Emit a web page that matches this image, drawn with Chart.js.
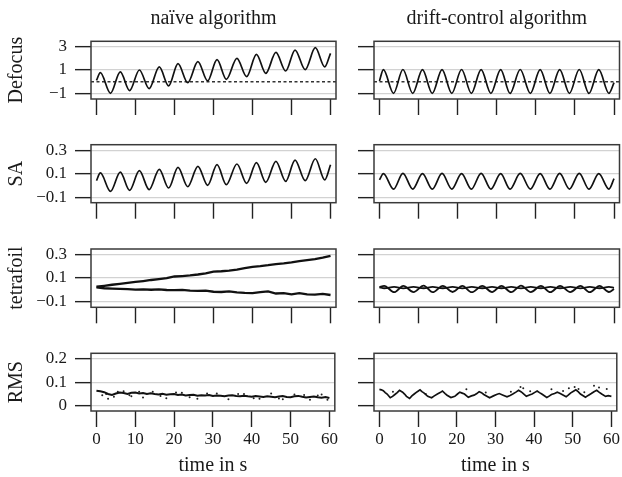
<!DOCTYPE html>
<html>
<head>
<meta charset="utf-8">
<title>naïve vs drift-control algorithm</title>
<script src="https://cdn.jsdelivr.net/npm/chart.js@4.4.1/dist/chart.umd.min.js"></script>
<style>
  html, body { margin: 0; padding: 0; background: #fff; overflow: hidden; }
  #wrap { position: relative; width: 622px; height: 477px; }
  #wrap canvas { position: absolute; }
</style>
</head>
<body>
<div id="wrap"></div>
<script>
// --- data (time in s) ---
const timeTicks = [0, 10, 20, 30, 40, 50, 60];
const columnTitles = ['naïve algorithm', 'drift-control algorithm'];
const rowNames = ['Defocus', 'SA', 'tetrafoil', 'RMS'];
const rowTicks = [[-1, 1, 3], [-0.1, 0.1, 0.3], [-0.1, 0.1, 0.3], [0, 0.1, 0.2]];

// turning points of the oscillating traces
const naiveTimes = [0, 1.0, 3.6, 6.1, 8.5, 11.0, 13.5, 16.1, 18.5, 20.9, 23.4, 26.0, 28.5, 30.9, 33.3, 36.0, 38.5, 41.0, 43.4, 46.0, 48.5, 50.9, 53.5, 56.1, 58.5, 60];
const driftTimes = [0, 1.0, 3.6, 6.0, 8.5, 11.0, 13.5, 16.0, 18.5, 21.0, 23.5, 26.0, 28.5, 31.0, 33.4, 36.0, 38.6, 41.1, 43.6, 46.1, 48.6, 51.1, 53.6, 56.1, 58.7, 60];

const defocusNaive = [0.1, 0.77, -1.0, 0.83, -0.77, 1.0, -0.6, 1.26, -0.37, 1.54, -0.09, 1.71, 0.06, 1.89, 0.2, 2.0, 0.43, 2.34, 0.71, 2.51, 0.91, 2.71, 1.03, 2.91, 1.26, 2.43];
const defocusDrift = [0.06, 1.03, -1.0, 1.04, -1.0, 1.03, -1.01, 1.03, -1.0, 1.04, -1.0, 1.03, -1.0, 1.03, -1.01, 1.04, -1.0, 1.03, -1.0, 1.03, -1.0, 1.04, -1.01, 1.03, -1.0, -0.09];

const saNaive = [0.043, 0.109, -0.049, 0.117, -0.04, 0.129, -0.034, 0.14, -0.02, 0.157, -0.009, 0.166, 0.003, 0.18, 0.009, 0.186, 0.02, 0.197, 0.029, 0.209, 0.037, 0.22, 0.043, 0.231, 0.049, 0.18];
const saDrift = [0.05, 0.104, -0.03, 0.106, -0.029, 0.104, -0.03, 0.105, -0.029, 0.104, -0.03, 0.106, -0.029, 0.104, -0.03, 0.105, -0.029, 0.104, -0.03, 0.105, -0.029, 0.106, -0.03, 0.104, -0.029, 0.06];

// tetrafoil, naive: two drifting traces sampled every 2 s
const tetraNaiveTimes = [0, 2, 4, 6, 8, 10, 12, 14, 16, 18, 20, 22, 24, 26, 28, 30, 32, 34, 36, 38, 40, 42, 44, 46, 48, 50, 52, 54, 56, 58, 60];
const tetraNaiveUpper = [0.025, 0.033, 0.042, 0.05, 0.058, 0.066, 0.074, 0.083, 0.09, 0.098, 0.113, 0.117, 0.122, 0.13, 0.14, 0.155, 0.158, 0.163, 0.172, 0.184, 0.196, 0.202, 0.21, 0.22, 0.226, 0.234, 0.245, 0.254, 0.262, 0.274, 0.29];
const tetraNaiveLower = [0.02, 0.012, 0.009, 0.007, 0.004, 0.001, 0.003, -0.001, 0.002, -0.003, -0.004, -0.002, -0.008, -0.011, -0.009, -0.018, -0.02, -0.015, -0.023, -0.028, -0.03, -0.022, -0.015, -0.033, -0.03, -0.04, -0.03, -0.04, -0.043, -0.036, -0.046];

// tetrafoil, drift-control: two small interleaved oscillations
const tetraDriftTimes = [0, 1.2, 3.75, 6.1, 8.7, 11.3, 13.6, 16.2, 18.7, 21.2, 23.6, 26.3, 28.8, 31.2, 33.7, 36.2, 38.7, 41.3, 43.7, 46.2, 48.8, 51.4, 53.8, 56.3, 58.7, 60];
const tetraDriftA = [0.02, 0.012, 0.024, 0.011, 0.023, 0.012, 0.024, 0.012, 0.023, 0.011, 0.024, 0.012, 0.023, 0.012, 0.024, 0.011, 0.023, 0.012, 0.024, 0.012, 0.023, 0.011, 0.024, 0.012, 0.023, 0.016];
const tetraDriftB = [0.022, 0.033, -0.022, 0.032, -0.021, 0.034, -0.022, 0.032, -0.02, 0.033, -0.022, 0.032, -0.021, 0.033, -0.022, 0.034, -0.021, 0.032, -0.022, 0.033, -0.021, 0.032, -0.022, 0.033, -0.02, 0.005];

// RMS, naive: sampled every second plus stray points
const rmsNaiveTimes = [0, 1, 2, 3, 4, 5, 6, 7, 8, 9, 10, 11, 12, 13, 14, 15, 16, 17, 18, 19, 20, 21, 22, 23, 24, 25, 26, 27, 28, 29, 30, 31, 32, 33, 34, 35, 36, 37, 38, 39, 40, 41, 42, 43, 44, 45, 46, 47, 48, 49, 50, 51, 52, 53, 54, 55, 56, 57, 58, 59, 60];
const rmsNaive = [0.064, 0.062, 0.058, 0.05, 0.046, 0.052, 0.056, 0.054, 0.05, 0.055, 0.056, 0.052, 0.054, 0.05, 0.053, 0.05, 0.048, 0.051, 0.047, 0.049, 0.05, 0.046, 0.048, 0.044, 0.046, 0.047, 0.043, 0.045, 0.044, 0.046, 0.042, 0.044, 0.043, 0.041, 0.044, 0.045, 0.042, 0.04, 0.043, 0.04, 0.038, 0.041, 0.039, 0.037, 0.04, 0.038, 0.036, 0.039, 0.041, 0.037, 0.036, 0.04, 0.042, 0.038, 0.035, 0.037, 0.039, 0.036, 0.034, 0.037, 0.033];
const rmsNaiveStrayT = [1.5, 2.5, 3, 4.5, 5.5, 7, 8.5, 9, 11, 12, 14.5, 16.5, 18, 20.5, 22, 24, 26, 28.5, 31, 34, 36.5, 38, 40.5, 42, 45, 47, 48, 51, 53.5, 55, 57, 58, 59.5];
const rmsNaiveStrayV = [0.045, 0.05, 0.03, 0.038, 0.06, 0.062, 0.045, 0.04, 0.06, 0.035, 0.06, 0.042, 0.032, 0.056, 0.055, 0.036, 0.03, 0.052, 0.052, 0.028, 0.05, 0.05, 0.032, 0.03, 0.052, 0.031, 0.028, 0.048, 0.046, 0.026, 0.044, 0.048, 0.025];

// RMS, drift-control
const rmsDriftTimes = [0, 0.5, 1, 1.5, 2, 2.8, 3.4, 4, 4.6, 5.2, 6, 6.5, 7, 7.8, 8.4, 9, 9.8, 10.5, 11, 11.5, 12.5, 13.5, 14.2, 15, 15.7, 16.3, 17, 17.5, 18.5, 19.5, 20.2, 20.8, 21.4, 22, 23, 23.8, 24.5, 25.2, 25.8, 26.4, 27, 28.5, 29.5, 30.3, 31, 32, 33, 33.8, 34.5, 35.3, 36, 36.6, 37, 38, 38.8, 39.5, 40.2, 40.8, 41.4, 42, 43.3, 44, 44.5, 45.3, 46, 46.5, 47, 48.3, 48.9, 49.5, 50.2, 50.8, 51.4, 52, 53.3, 54, 54.8, 55.5, 56.2, 56.8, 57.5, 58.5, 59.2, 60];
const rmsDrift = [0.07, 0.068, 0.064, 0.056, 0.05, 0.034, 0.04, 0.048, 0.056, 0.066, 0.058, 0.05, 0.04, 0.031, 0.042, 0.05, 0.06, 0.068, 0.06, 0.055, 0.04, 0.034, 0.042, 0.05, 0.056, 0.063, 0.052, 0.045, 0.035, 0.04, 0.05, 0.058, 0.054, 0.05, 0.036, 0.042, 0.045, 0.052, 0.06, 0.056, 0.048, 0.034, 0.042, 0.048, 0.052, 0.045, 0.038, 0.044, 0.05, 0.058, 0.066, 0.06, 0.055, 0.04, 0.046, 0.05, 0.057, 0.063, 0.056, 0.05, 0.035, 0.042, 0.048, 0.052, 0.058, 0.054, 0.05, 0.038, 0.046, 0.055, 0.062, 0.068, 0.06, 0.05, 0.036, 0.044, 0.052, 0.06, 0.066, 0.058, 0.05, 0.04, 0.043, 0.04];
const rmsDriftStrayT = [3.5, 12, 22.5, 27.5, 34, 36.5, 37.2, 39, 44.5, 47.5, 49, 50.5, 51.5, 53, 55.5, 56.8, 58.8];
const rmsDriftStrayV = [0.06, 0.05, 0.07, 0.056, 0.06, 0.08, 0.075, 0.062, 0.07, 0.063, 0.075, 0.08, 0.072, 0.058, 0.085, 0.078, 0.072];

// --- drawing ---
const serif = '"Liberation Serif", "DejaVu Serif", serif';
const ink = '#1a1a1a';
const wrap = document.getElementById('wrap');

const pts = (ts, vs) => ts.map((t, i) => ({ x: t, y: vs[i] }));
const minus = v => (v < 0 ? '\u2212' : '') + Math.abs(v);

// frame round the plot region
const boxPlugin = {
    id: 'box',
    afterDraw(chart) {
        const { ctx, chartArea: a } = chart;
        ctx.save();
        ctx.strokeStyle = '#3a3a3a';
        ctx.lineWidth = 1.5;
        ctx.strokeRect(a.left, a.top, a.right - a.left, a.bottom - a.top);
        ctx.restore();
    }
};

// dotted reference line at y = 0
const zeroLine = {
    id: 'zeroLine',
    beforeDatasetsDraw(chart, args, opts) {
        if (!opts || !opts.show) return;
        const { ctx, chartArea: a, scales } = chart;
        const py = scales.y.getPixelForValue(0);
        ctx.save();
        ctx.setLineDash([3, 2.5]);
        ctx.lineWidth = 1.5;
        ctx.strokeStyle = '#333';
        ctx.beginPath();
        ctx.moveTo(a.left, py);
        ctx.lineTo(a.right, py);
        ctx.stroke();
        ctx.restore();
    }
};

const rows = [
    { top: 0, h: 120, padTop: 0, xh: 21, min: -1.49, max: 3.46 },
    { top: 120, h: 105, padTop: 24.7, xh: 22.3, min: -0.146, max: 0.3515 },
    { top: 225, h: 105, padTop: 24, xh: 22.7, min: -0.1515, max: 0.349 },
    { top: 330, h: 148, padTop: 23.3, xh: 67, min: -0.0227, max: 0.2244 }
];
const cols = [
    { left: 0, w: 340, yw: 91, padRight: 4 },
    { left: 340, w: 282, yw: 34, padRight: 2.5 }
];

const smooth = (ts, vs, width) => ({
    data: pts(ts, vs), borderColor: '#111', borderWidth: width || 1.7,
    pointRadius: 0, cubicInterpolationMode: 'monotone'
});
const rough = (ts, vs, width) => ({
    data: pts(ts, vs), borderColor: '#111', borderWidth: width || 2,
    pointRadius: 0, tension: 0
});
const dots = (ts, vs) => ({
    data: pts(ts, vs), showLine: false, pointRadius: 1, pointBorderWidth: 0,
    pointBackgroundColor: '#222'
});

const panelData = [
    [[smooth(naiveTimes, defocusNaive)], [smooth(driftTimes, defocusDrift)]],
    [[smooth(naiveTimes, saNaive)], [smooth(driftTimes, saDrift)]],
    [[rough(tetraNaiveTimes, tetraNaiveUpper, 2.3), rough(tetraNaiveTimes, tetraNaiveLower, 2.3)],
     [smooth(tetraDriftTimes, tetraDriftA, 1.8), smooth(tetraDriftTimes, tetraDriftB, 1.8)]],
    [[rough(rmsNaiveTimes, rmsNaive, 2), dots(rmsNaiveStrayT, rmsNaiveStrayV)],
     [rough(rmsDriftTimes, rmsDrift, 1.7), dots(rmsDriftStrayT, rmsDriftStrayV)]]
];

rows.forEach((row, r) => {
    cols.forEach((col, c) => {
        const canvas = document.createElement('canvas');
        canvas.width = col.w;
        canvas.height = row.h;
        canvas.style.left = col.left + 'px';
        canvas.style.top = row.top + 'px';
        canvas.style.width = col.w + 'px';
        canvas.style.height = row.h + 'px';
        wrap.appendChild(canvas);

        const bottom = r === rows.length - 1;
        const first = c === 0;

        new Chart(canvas, {
            type: 'line',
            data: { datasets: panelData[r][c] },
            options: {
                responsive: false,
                animation: false,
                devicePixelRatio: 1,
                layout: { padding: { top: row.padTop, right: col.padRight, left: 0, bottom: 0 } },
                plugins: {
                    legend: { display: false },
                    tooltip: { enabled: false },
                    title: {
                        display: r === 0,
                        text: columnTitles[c],
                        fullSize: false,
                        color: ink,
                        font: { family: serif, size: 20, weight: 'normal' },
                        padding: { top: 7, bottom: 10.3 }
                    },
                    zeroLine: { show: r === 0 }
                },
                scales: {
                    x: {
                        type: 'linear',
                        min: -1.4,
                        max: 61.4,
                        afterBuildTicks: s => { s.ticks = timeTicks.map(v => ({ value: v })); },
                        afterFit: s => { s.height = row.xh; },
                        border: { display: false },
                        grid: { drawOnChartArea: false, drawTicks: true, tickLength: 16, tickColor: '#222', tickWidth: 1.4 },
                        ticks: {
                            autoSkip: false, maxRotation: 0, padding: 2, color: ink,
                            font: { family: serif, size: 17 },
                            callback: v => bottom ? String(v) : ''
                        },
                        title: {
                            display: bottom, text: 'time in s', color: ink,
                            font: { family: serif, size: 20 },
                            padding: { top: 0, bottom: 0 }
                        }
                    },
                    y: {
                        min: row.min,
                        max: row.max,
                        afterBuildTicks: s => { s.ticks = rowTicks[r].map(v => ({ value: v })); },
                        afterFit: s => { s.width = col.yw; },
                        border: { display: false },
                        grid: { color: '#d2d2d2', lineWidth: 1.3, drawTicks: true, tickLength: 16, tickColor: '#222', tickWidth: 1.4 },
                        ticks: {
                            autoSkip: false, padding: 8, color: ink,
                            font: { family: serif, size: 17 },
                            callback: v => first ? minus(v) : ''
                        },
                        title: {
                            display: first, text: rowNames[r], color: ink,
                            font: { family: serif, size: 20 },
                            padding: { top: 5, bottom: 0 }
                        }
                    }
                }
            },
            plugins: [boxPlugin, zeroLine]
        });
    });
});
</script>
</body>
</html>
